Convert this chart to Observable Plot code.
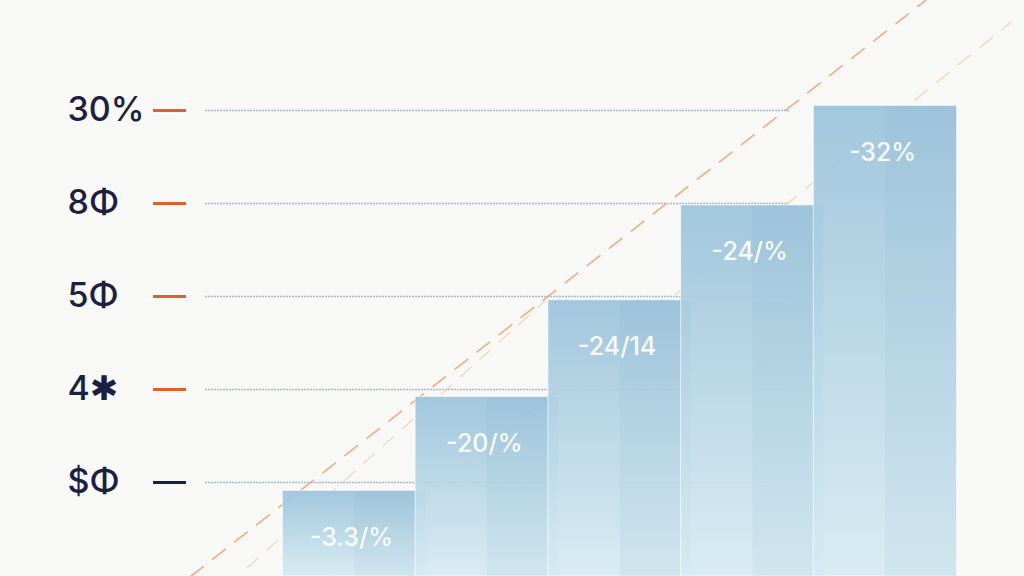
<!DOCTYPE html>
<html><head><meta charset="utf-8">
<script src="https://cdn.jsdelivr.net/npm/d3@7"></script>
<script src="https://cdn.jsdelivr.net/npm/@observablehq/plot@0.6"></script>
<style>html,body{margin:0;padding:0;background:#f8f8f6;overflow:hidden}</style>
</head><body><div id="chart"></div>
<script>
// bar positions (index) and heights (in tick units)
const barIndex = [0, 1, 2, 3, 4];
const barValues = [-0.09, 0.92, 1.96, 2.98, 4.05];
const barLabels = ["-3.3/%", "-20/%", "-24/14", "-24/%", "-32%"];
const tickValues = [0, 1, 2, 3, 4];
const tickLabels = ["$Φ", "4✱", "5Φ", "8Φ", "30%"];
// dashed trend lines (data units)
const trendA = [{x: -1.235, y: -1.011}, {x: 4.301, y: 5.183}];
const trendA2 = [{x: -0.806, y: -0.914}, {x: 1.439, y: 1.957}];
const trendB = [{x: -0.203, y: -1.011}, {x: 4.942, y: 4.946}];

const yMin = -1.011, yMax = 5.183;
const half = 0.54;
const bars = barIndex.map((i, k) => ({i, v: barValues[k], label: barLabels[k]}));

const barMarks = bars.flatMap(b => [
  Plot.rectY([b], {x1: d => d.i - half, x2: d => d.i + half, y1: () => yMin, y2: d => d.v,
    fill: "url(#barGrad)", fillOpacity: 0.93, stroke: "#ffffff", strokeOpacity: 0.55, strokeWidth: 1.2}),
  Plot.rectY([b], {x1: d => d.i, x2: d => d.i + half - 0.005, y1: () => yMin, y2: d => d.v - 0.005,
    fill: "#5f98bb", fillOpacity: 0.07})
]);

const chart = Plot.plot({
  width: 1024, height: 576,
  marginLeft: 0, marginRight: 0, marginTop: 0, marginBottom: 0,
  style: {background: "transparent", fontFamily: "Inter, 'DejaVu Sans', sans-serif"},
  x: {domain: [-2.667, 5.047], axis: null},
  y: {domain: [yMin, yMax], axis: null},
  marks: [
    Plot.ruleY(tickValues, {y: d => d, x1: () => -1.122, x2: () => 3.284,
      stroke: "#9eb2c4", strokeWidth: 1.3, strokeDasharray: "2 1", strokeOpacity: 0.9}),
    Plot.line(trendA, {x: "x", y: "y", stroke: "#ea9462", strokeWidth: 1.6, strokeOpacity: 0.75, strokeDasharray: "16 12"}),
    Plot.line(trendA2, {x: "x", y: "y", stroke: "#f4c7a2", strokeWidth: 1.5, strokeOpacity: 0.6, strokeDasharray: "14 12"}),
    Plot.line(trendB, {x: "x", y: "y", stroke: "#f2c99b", strokeWidth: 1.6, strokeOpacity: 0.65, strokeDasharray: "16 12"}),
    ...barMarks,
    Plot.text(bars, {x: "i", y: "v", text: "label", dy: 47, dx: -3, fill: "#ffffff", fillOpacity: 0.95,
      fontSize: 25, fontWeight: 500}),
    Plot.ruleY(tickValues.filter(t => t !== 0), {y: d => d, x1: () => -1.514, x2: () => -1.266,
      stroke: "#e05e28", strokeWidth: 3}),
    Plot.ruleY([0], {y: d => d, x1: () => -1.514, x2: () => -1.266, stroke: "#1c2040", strokeWidth: 3}),
    Plot.text(tickValues, {y: d => d, text: (d, k) => tickLabels[k], frameAnchor: "left", dx: 67,
      textAnchor: "start", fill: "#1c2040", fontSize: 34, fontWeight: 500})
  ]
});

d3.select(chart).insert("defs", ":first-child").html(`
  <linearGradient id="barGrad" x1="0" y1="0" x2="0" y2="1">
    <stop offset="0" stop-color="#9cc3db"/>
    <stop offset="1" stop-color="#d6ebf3"/>
  </linearGradient>`);
document.getElementById("chart").appendChild(chart);
</script></body></html>
